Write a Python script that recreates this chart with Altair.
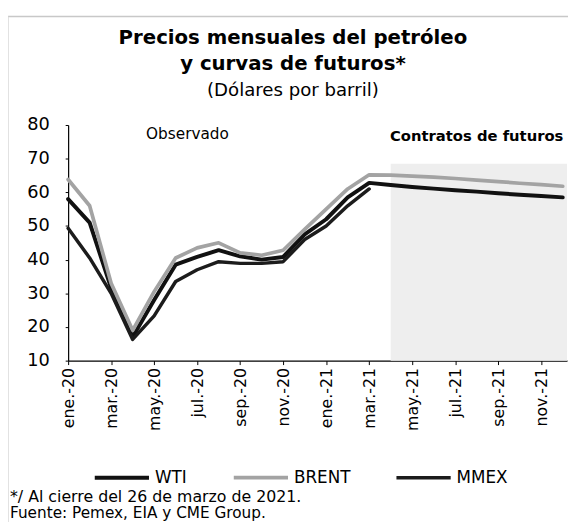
import altair as alt
import pandas as pd

# ---- data ----
months = ["ene.-20", "feb.-20", "mar.-20", "abr.-20", "may.-20", "jun.-20",
          "jul.-20", "ago.-20", "sep.-20", "oct.-20", "nov.-20", "dic.-20",
          "ene.-21", "feb.-21", "mar.-21", "abr.-21", "may.-21", "jun.-21",
          "jul.-21", "ago.-21", "sep.-21", "oct.-21", "nov.-21", "dic.-21"]
wti = [58.0, 51.0, 31.5, 17.0, 28.0, 38.5, 40.8, 42.8, 41.0, 40.0, 40.8, 47.5,
       52.0, 58.5, 62.8, 62.2, 61.6, 61.1, 60.6, 60.2, 59.7, 59.3, 58.9, 58.5]
brent = [63.8, 56.0, 33.0, 19.0, 30.5, 40.5, 43.5, 45.0, 42.0, 41.3, 42.8, 49.0,
         55.0, 61.0, 65.2, 65.1, 64.8, 64.5, 64.1, 63.6, 63.2, 62.7, 62.3, 61.8]
mmex = [49.3, 40.5, 30.0, 16.3, 23.3, 33.5, 37.0, 39.4, 38.9, 38.9, 39.4, 46.0,
        50.0, 56.0, 61.0]
series_names = ["WTI", "BRENT", "MMEX"]
series_colors = ["#111111", "#a3a3a3", "#1c1c1c"]
series_widths = [4.0, 3.5, 3.5]
tick_months = list(range(0, 24, 2))
y_ticks = [10, 20, 30, 40, 50, 60, 70, 80]
futures_span = [15, 23.2]   # shaded forecast zone (month index)
shade_y = [10, 68.5]

title_lines = ["Precios mensuales del petróleo", "y curvas de futuros*"]
subtitle = "(Dólares por barril)"
footnotes = ["*/ Al cierre del 26 de marzo de 2021.", "Fuente: Pemex, EIA y CME Group."]

FONT = "DejaVu Sans"

rows = []
for name, vals in zip(series_names, [wti, brent, mmex]):
    for i, v in enumerate(vals):
        rows.append({"idx": i, "mes": months[i], "serie": name, "valor": v})
df = pd.DataFrame(rows)

shade_df = pd.DataFrame({"x": [futures_span[0]], "x2": [futures_span[1]],
                         "y": [shade_y[0]], "y2": [shade_y[1]]})
obs_df = pd.DataFrame({"x": [5.55], "y": [77.4], "txt": ["Observado"]})
fut_df = pd.DataFrame({"x": [19.0], "y": [76.8], "txt": ["Contratos de futuros"]})

label_expr = "[" + ",".join("'" + m + "'" for m in months) + "][datum.value]"

xscale = alt.Scale(domain=[0, 23.2], nice=False, zero=False)
yscale = alt.Scale(domain=[10, 80], nice=False, zero=False)

x_axis = alt.Axis(values=tick_months, labelExpr=label_expr, labelAngle=-90,
                  labelFontSize=16, labelFont=FONT, labelColor="#000",
                  labelOverlap=False,
                  domainColor="#000", domainWidth=1.2, tickColor="#000",
                  tickSize=4, labelPadding=3, grid=False)
y_axis = alt.Axis(values=y_ticks, labelFontSize=18, labelFont=FONT,
                  labelColor="#000", labelOverlap=False,
                  domainColor="#000", domainWidth=1.2, tickColor="#000",
                  tickSize=3, labelPadding=16, grid=False)

shade = alt.Chart(shade_df).mark_rect(color="#eeeeee").encode(
    x=alt.X("x:Q", scale=xscale, title=None, axis=x_axis), x2="x2:Q",
    y=alt.Y("y:Q", scale=yscale, title=None, axis=y_axis), y2="y2:Q")

lines = alt.Chart(df).mark_line(strokeJoin="round", strokeCap="round").encode(
    x=alt.X("idx:Q", scale=xscale, title=None, axis=x_axis),
    y=alt.Y("valor:Q", scale=yscale, title=None, axis=y_axis),
    color=alt.Color("serie:N",
                    scale=alt.Scale(domain=series_names, range=series_colors),
                    legend=alt.Legend(title=None, orient="none", direction="horizontal",
                                      legendX=25, legendY=328, symbolType="stroke",
                                      symbolSize=3025, symbolStrokeWidth=4,
                                      labelFontSize=17, labelFont=FONT, labelColor="#000",
                                      labelOffset=4, columnPadding=39, padding=0)),
    strokeWidth=alt.StrokeWidth("serie:N",
                                scale=alt.Scale(domain=series_names, range=series_widths),
                                legend=None),
)

obs = alt.Chart(obs_df).mark_text(font=FONT, fontSize=15.5, color="#000").encode(
    x=alt.X("x:Q", scale=xscale, title=None, axis=x_axis),
    y=alt.Y("y:Q", scale=yscale, title=None, axis=y_axis),
    text="txt:N")
fut = alt.Chart(fut_df).mark_text(font=FONT, fontSize=15, fontWeight="bold", color="#000").encode(
    x=alt.X("x:Q", scale=xscale, title=None, axis=x_axis),
    y=alt.Y("y:Q", scale=yscale, title=None, axis=y_axis),
    text="txt:N")


def free_text(txt, x, y, size, weight="normal", align="center"):
    return alt.Chart(pd.DataFrame({"t": [txt]})).mark_text(
        font=FONT, fontSize=size, fontWeight=weight, color="#000", align=align,
        baseline="middle").encode(x=alt.value(x), y=alt.value(y), text="t:N")


t1 = free_text(title_lines[0], 228, -88, 20, "bold")
t2 = free_text(title_lines[1], 228, -62, 20, "bold")
t3 = free_text(subtitle, 228, -35, 18.4)
foot1 = free_text(footnotes[0], -59, 377.5, 16, align="left")
foot2 = free_text(footnotes[1], -59, 394, 15.5, align="left")

frame_top = alt.Chart(pd.DataFrame({"a": [0]})).mark_rule(color="#c8c8c8", strokeWidth=1.5).encode(
    x=alt.value(-61), x2=alt.value(507), y=alt.value(-110))
frame_left = alt.Chart(pd.DataFrame({"a": [0]})).mark_rule(color="#d8d8d8", strokeWidth=1.5).encode(
    x=alt.value(-61), y=alt.value(-110), y2=alt.value(406))

# shaded zone first so that the lines are drawn above it
chart = alt.layer(shade, lines, frame_top, frame_left, obs, fut, t1, t2, t3, foot1, foot2).properties(
    width=506, height=239,
    autosize=alt.AutoSizeParams(type="none"),
    padding={"left": 61, "top": 115, "right": 1, "bottom": 160},
).configure_view(stroke=None)

chart.save("out.html", embed_options={"renderer": "svg", "actions": False})
